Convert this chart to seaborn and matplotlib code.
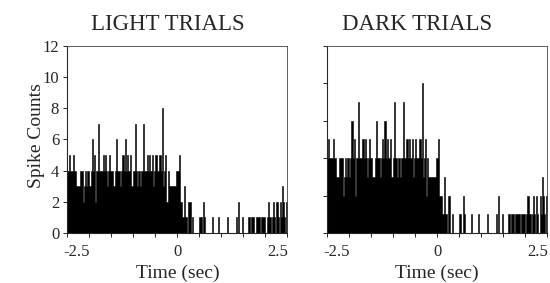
import numpy as np
import pandas as pd
import matplotlib
matplotlib.use("Agg")
import matplotlib.pyplot as plt
import matplotlib.transforms as mtransforms
import seaborn as sns

# peri-event histogram, 25 ms bins from -2.5 s to +2.5 s
t_start = -2.5
t_stop = 2.5
n_bins = 200

light_counts = [
    4, 5, 4, 4, 4, 5, 4, 4, 3, 3,
    3, 4, 4, 4, 2, 3, 4, 3, 4, 4,
    3, 4, 6, 4, 5, 2, 4, 4, 7, 4,
    4, 4, 5, 4, 5, 4, 3, 4, 5, 4,
    4, 3, 3, 4, 6, 4, 4, 4, 3, 4,
    5, 4, 6, 4, 5, 4, 4, 5, 3, 3,
    4, 7, 4, 3, 4, 4, 3, 4, 4, 7,
    4, 4, 5, 4, 5, 4, 4, 5, 3, 4,
    5, 4, 4, 5, 5, 4, 8, 3, 4, 5,
    2, 4, 3, 3, 3, 3, 3, 3, 3, 4,
    4, 5, 2, 2, 1, 1, 3, 1, 1, 0,
    2, 2, 0, 1, 0, 0, 0, 0, 0, 0,
    1, 1, 0, 2, 1, 0, 0, 0, 0, 0,
    0, 1, 0, 0, 0, 0, 0, 1, 0, 0,
    0, 0, 0, 0, 0, 1, 0, 0, 0, 0,
    0, 0, 0, 1, 0, 2, 0, 0, 0, 1,
    0, 0, 0, 0, 1, 1, 0, 1, 1, 1,
    0, 1, 1, 1, 1, 0, 1, 1, 1, 1,
    0, 1, 2, 1, 1, 0, 1, 2, 1, 0,
    2, 1, 0, 2, 1, 3, 2, 1, 0, 2,
]
# the dark-trial panel shows the same bars, only on a 0-10 axis
dark_counts = light_counts

panel_titles = ["LIGHT TRIALS", "DARK TRIALS"]
panel_ymax = [12, 10]
xtick_labels = {-2.5: "-2.5", 0.0: "0", 2.5: "2.5"}

sns.set_style("ticks")
plt.rcParams["font.family"] = ["Liberation Serif", "DejaVu Serif"]

fig = plt.figure(figsize=(5.5, 2.83), dpi=100)
ax_light = fig.add_axes([0.1227, 0.1767, 0.4, 0.661])
ax_dark = fig.add_axes([0.595, 0.1767, 0.4, 0.661])

bin_width = (t_stop - t_start) / n_bins
centers = t_start + bin_width * (np.arange(n_bins) + 0.5)

xticks = np.arange(-2.5, 2.51, 0.5)

for ax, counts, title, ymax in zip([ax_light, ax_dark], [light_counts, dark_counts],
                                    panel_titles, panel_ymax):
    df = pd.DataFrame({"time": centers, "count": counts})
    sns.histplot(data=df, x="time", weights="count", bins=n_bins,
                 binrange=(t_start, t_stop), element="step", fill=True,
                 color="black", alpha=1, linewidth=0.4, edgecolor="black", ax=ax)
    ax.set_xlim(t_start, t_stop)
    ax.set_ylim(0, ymax)
    ax.set_yticks(np.arange(0, ymax + 1, 2))
    ax.set_xticks(xticks)
    ax.set_xticklabels([xtick_labels.get(round(v, 1), "") for v in xticks], fontsize=12)
    ax.set_xlabel("Time (sec)", fontsize=14, labelpad=3)
    ax.set_ylabel("")
    ax.tick_params(length=3, width=0.7)
    ax.tick_params(axis="x", pad=5)
    ax.tick_params(axis="y", pad=3)
    # end labels sit a little inside the axis ends
    lbls = ax.get_xticklabels()
    lbls[0].set_transform(lbls[0].get_transform() +
                          mtransforms.ScaledTranslation(9 / 100, 0, fig.dpi_scale_trans))
    lbls[-1].set_transform(lbls[-1].get_transform() +
                           mtransforms.ScaledTranslation(-10 / 100, 0, fig.dpi_scale_trans))
    for side in ["top", "right"]:
        ax.spines[side].set_linewidth(0.6)
        ax.spines[side].set_color("#444444")
    for side in ["left", "bottom"]:
        ax.spines[side].set_linewidth(0.8)

ax_light.set_yticklabels([str(v) for v in range(0, 13, 2)], fontsize=12)
ax_light.set_ylabel("Spike Counts", fontsize=14)
ax_light.yaxis.set_label_coords(-0.10, 0.52)
ax_dark.set_yticklabels([])

fig.text(0.3045, 0.915, panel_titles[0], ha="center", va="center", fontsize=16.5)
fig.text(0.758, 0.915, panel_titles[1], ha="center", va="center", fontsize=16.5)

fig.savefig("out.png", dpi=100)
